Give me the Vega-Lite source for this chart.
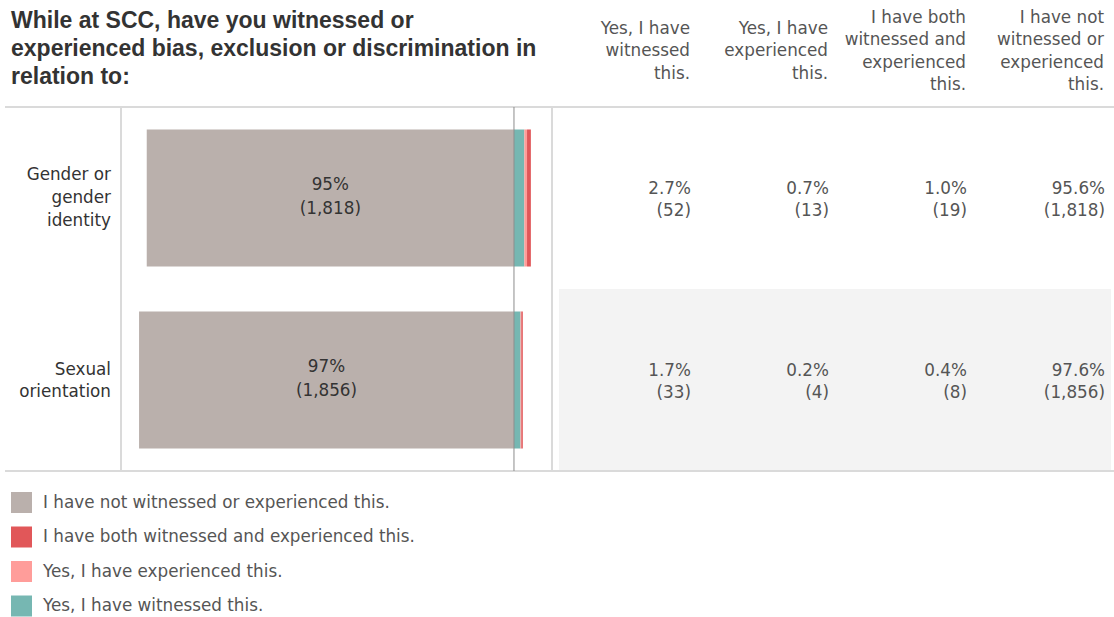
{
  "$schema": "https://vega.github.io/schema/vega-lite/v6.json",
  "padding": {"left": 4, "top": 9, "right": 1, "bottom": 0},
  "bounds": "flush",
  "spacing": 0,
  "config": {
    "view": {"stroke": null},
    "font": "DejaVu Sans",
    "text": {"font": "DejaVu Sans"},
    "legend": {"labelFont": "DejaVu Sans"},
    "axis": {"labelFont": "DejaVu Sans"}
  },
  "datasets": {
    "resp": [
      {"row": "Gender or gender identity", "response": "Yes, I have witnessed this.", "pct": 2.7, "n": 52},
      {"row": "Gender or gender identity", "response": "Yes, I have experienced this.", "pct": 0.7, "n": 13},
      {"row": "Gender or gender identity", "response": "I have both witnessed and experienced this.", "pct": 1.0, "n": 19},
      {"row": "Gender or gender identity", "response": "I have not witnessed or experienced this.", "pct": 95.6, "n": 1818},
      {"row": "Sexual orientation", "response": "Yes, I have witnessed this.", "pct": 1.7, "n": 33},
      {"row": "Sexual orientation", "response": "Yes, I have experienced this.", "pct": 0.2, "n": 4},
      {"row": "Sexual orientation", "response": "I have both witnessed and experienced this.", "pct": 0.4, "n": 8},
      {"row": "Sexual orientation", "response": "I have not witnessed or experienced this.", "pct": 97.6, "n": 1856}
    ],
    "rows": [
      {"row": "Gender or gender identity", "label": "Gender or|gender|identity"},
      {"row": "Sexual orientation", "label": "Sexual|orientation"}
    ]
  },
  "hconcat": [
    {
      "width": 116,
      "height": 364,
      "title": {
        "text": ["While at SCC, have you witnessed or", "experienced bias, exclusion or discrimination in", "relation to:"],
        "anchor": "start",
        "frame": "group",
        "font": "Liberation Sans",
        "fontSize": 23,
        "fontWeight": "bold",
        "color": "#333333",
        "lineHeight": 28,
        "offset": 17,
        "dx": 6
      },
      "data": {"name": "rows"},
      "encoding": {
        "y": {"field": "row", "type": "nominal", "axis": null, "scale": {"domain": ["Gender or gender identity", "Sexual orientation"], "paddingInner": 0, "paddingOuter": 0}}
      },
      "layer": [
        {
          "transform": [{"filter": "datum.row == 'Gender or gender identity'"}],
          "mark": {"type": "text", "align": "right", "baseline": "middle", "lineBreak": "|", "fontSize": 16.8, "lineHeight": 23, "color": "#333333", "dx": -10, "dy": -23},
          "encoding": {
            "x": {"value": "width"},
            "text": {"field": "label"}
          }
        },
        {
          "transform": [{"filter": "datum.row == 'Sexual orientation'"}],
          "mark": {"type": "text", "align": "right", "baseline": "middle", "lineBreak": "|", "fontSize": 16.8, "lineHeight": 22, "color": "#333333", "dx": -10, "dy": -10},
          "encoding": {
            "x": {"value": "width"},
            "text": {"field": "label"}
          }
        },
        {
          "transform": [{"filter": "datum.row == 'Gender or gender identity'"}],
          "mark": {"type": "rule", "color": "#dadada", "strokeWidth": 2},
          "encoding": {"y": {"field": "row", "type": "nominal", "bandPosition": 0}}
        },
        {
          "transform": [{"filter": "datum.row == 'Sexual orientation'"}],
          "mark": {"type": "rule", "color": "#dadada", "strokeWidth": 2},
          "encoding": {"y": {"field": "row", "type": "nominal", "bandPosition": 1}}
        }
      ]
    },
    {
      "width": 431,
      "height": 364,
      "view": {"stroke": "#dadada", "strokeWidth": 2},
      "data": {"name": "resp"},
      "transform": [
        {"calculate": "datum.response == 'I have not witnessed or experienced this.' ? -datum.pct : datum.pct", "as": "signed"},
        {"calculate": "indexof(['I have not witnessed or experienced this.', 'Yes, I have witnessed this.', 'Yes, I have experienced this.', 'I have both witnessed and experienced this.'], datum.response)", "as": "ord"}
      ],
      "layer": [
        {
          "mark": {"type": "bar", "height": {"band": 0.753}},
          "encoding": {
            "y": {"field": "row", "type": "nominal", "axis": null, "scale": {"domain": ["Gender or gender identity", "Sexual orientation"], "paddingInner": 0, "paddingOuter": 0}},
            "x": {"field": "signed", "type": "quantitative", "stack": "zero", "axis": null, "scale": {"domain": [-102.3, 9.9], "nice": false, "zero": false}},
            "color": {
              "field": "response",
              "type": "nominal",
              "scale": {
                "domain": ["I have not witnessed or experienced this.", "I have both witnessed and experienced this.", "Yes, I have experienced this.", "Yes, I have witnessed this."],
                "range": ["#bab0ac", "#e15759", "#ff9d9a", "#76b7b2"]
              },
              "legend": {
                "title": null,
                "orient": "none",
                "legendX": 6,
                "legendY": 385,
                "symbolType": "square",
                "symbolSize": 441,
                "symbolStrokeWidth": 0,
                "symbolOpacity": 1,
                "labelFontSize": 16.8,
                "labelColor": "#555555",
                "labelOffset": 11,
                "rowPadding": 13.5,
                "labelLimit": 600
              }
            },
            "order": {"field": "ord", "type": "quantitative"}
          }
        },
        {
          "data": {"values": [{}]},
          "mark": {"type": "rule", "color": "#8c8c8c", "strokeWidth": 1},
          "encoding": {"x": {"datum": 0, "type": "quantitative"}}
        },
        {
          "transform": [
            {"filter": "datum.response == 'I have not witnessed or experienced this.'"},
            {"calculate": "-datum.pct / 2", "as": "mid"},
            {"calculate": "floor(datum.pct) + '%|(' + format(datum.n, ',') + ')'", "as": "barText"}
          ],
          "mark": {"type": "text", "align": "center", "baseline": "middle", "lineBreak": "|", "fontSize": 16.8, "lineHeight": 24, "color": "#333333", "dy": -13.5},
          "encoding": {
            "y": {"field": "row", "type": "nominal"},
            "x": {"field": "mid", "type": "quantitative"},
            "text": {"field": "barText"}
          }
        }
      ]
    },
    {
      "width": 562,
      "height": 364,
      "data": {"name": "resp"},
      "transform": [
        {"calculate": "format(datum.pct, '.1f') + '%|(' + format(datum.n, ',') + ')'", "as": "tabText"}
      ],
      "encoding": {
        "y": {"field": "row", "type": "nominal", "axis": null, "scale": {"domain": ["Gender or gender identity", "Sexual orientation"], "paddingInner": 0, "paddingOuter": 0}}
      },
      "layer": [
        {
          "transform": [{"filter": "datum.row == 'Sexual orientation'"}],
          "mark": {"type": "bar", "color": "#f3f3f3"},
          "encoding": {
            "x": {
              "field": "response",
              "type": "nominal",
              "scale": {"domain": ["Yes, I have witnessed this.", "Yes, I have experienced this.", "I have both witnessed and experienced this.", "I have not witnessed or experienced this."], "paddingInner": 0, "paddingOuter": 0.0362, "align": 0.7},
              "axis": {
                "orient": "top",
                "title": null,
                "domain": false,
                "ticks": false,
                "tickSize": 0,
                "labelAngle": 0,
                "labelAlign": "right",
                "labelBaseline": "middle",
                "labelOffset": 62,
                "labelPadding": {"condition": {"test": "indexof(datum.value, 'I have') == 0", "value": 90}, "value": 79},
                "labelFontSize": 16.8,
                "labelLineHeight": 22.6,
                "labelColor": "#555555",
                "labelLimit": 300,
                "labelExpr": "datum.value == 'Yes, I have witnessed this.' ? ['Yes, I have', 'witnessed', 'this.'] : datum.value == 'Yes, I have experienced this.' ? ['Yes, I have', 'experienced', 'this.'] : datum.value == 'I have both witnessed and experienced this.' ? ['I have both', 'witnessed and', 'experienced', 'this.'] : ['I have not', 'witnessed or', 'experienced', 'this.']"
              }
            }
          }
        },
        {
          "mark": {"type": "text", "align": "right", "baseline": "middle", "lineBreak": "|", "fontSize": 16.8, "lineHeight": 22, "color": "#555555", "dx": -6, "dy": -9},
          "encoding": {
            "x": {"field": "response", "type": "nominal", "bandPosition": 1},
            "text": {"field": "tabText"}
          }
        },
        {
          "transform": [{"filter": "datum.row == 'Gender or gender identity' && datum.response == 'Yes, I have witnessed this.'"}],
          "mark": {"type": "rule", "color": "#dadada", "strokeWidth": 2},
          "encoding": {"y": {"field": "row", "type": "nominal", "bandPosition": 0}}
        },
        {
          "transform": [{"filter": "datum.row == 'Sexual orientation' && datum.response == 'Yes, I have witnessed this.'"}],
          "mark": {"type": "rule", "color": "#dadada", "strokeWidth": 2},
          "encoding": {"y": {"field": "row", "type": "nominal", "bandPosition": 1}}
        }
      ]
    }
  ]
}
